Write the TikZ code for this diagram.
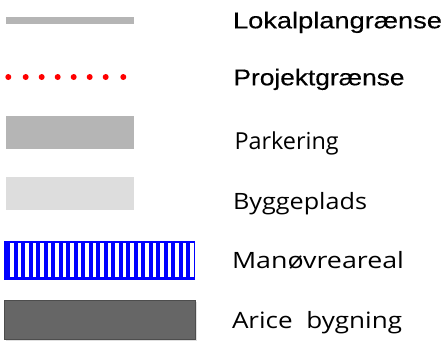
\documentclass[tikz,border=0pt]{standalone}
\usepackage{fontspec}
\setmainfont{Open Sans}
\newfontfamily\arialfont[FakeBold=0.3]{Liberation Sans}
\definecolor{lpgray}{HTML}{B5B5B5}
\definecolor{bygray}{HTML}{DDDDDD}
\definecolor{arigray}{HTML}{666666}
\definecolor{ariedge}{HTML}{4D4D4D}
\definecolor{manblue}{HTML}{0000FF}
\definecolor{projred}{HTML}{FF0000}
\tikzset{
  lbl/.style={anchor=base west, inner sep=0pt, outer sep=0pt},
}
\newcommand{\arialtxt}[2]{\resizebox{#1}{\height}{\arialfont\fontsize{22.8}{26}\selectfont #2}}
\newcommand{\humtxt}[2]{\resizebox{#1}{\height}{\fontsize{22.5}{27}\selectfont #2}}
\begin{document}
\begin{tikzpicture}[x=1pt,y=-1pt]
\useasboundingbox (0,0) rectangle (445,349);
% Lokalplangrænse
\fill[lpgray] (6,17) rectangle (134,24);
\node[lbl] (t1) at (233,28.3) {\arialtxt{209pt}{Lokalplangrænse}};
% Projektgrænse
\foreach \xx in {8.3,25.7,41.7,57.7,73.7,89.7,105.7,123.3}
  \fill[projred] (\xx,77) circle (3);
\node[lbl] (t2) at (233.5,85.3) {\arialtxt{171pt}{Projektgrænse}};
% Parkering
\fill[lpgray] (6,116) rectangle (134,149);
\node[lbl] (t3) at (234.5,149.7) {\fontsize{23.4}{28}\selectfont Parkering};
% Byggeplads
\fill[bygray] (6,177) rectangle (134,210);
\node[lbl] (t4) at (233,209.7) {\humtxt{134pt}{Byggeplads}};
% Manøvreareal
\fill[manblue] (4,240.5) rectangle (195,279.5);
\foreach \k in {0,...,24}
  \fill[white] ({10+7.5*\k},243.3) rectangle ({13.7+7.5*\k},276.7);
\node[lbl] (t5) at (232,268.7) {\humtxt{172pt}{Manøvreareal}};
% Arice bygning
\fill[black!12] (5.5,301.5) rectangle (196.5,341);
\filldraw[fill=arigray, draw=ariedge, line width=0.8pt] (4,300) rectangle (195,339.5);
\node[lbl] (t6) at (232,328.7) {\humtxt{170pt}{Arice\ \ bygning}};
\end{tikzpicture}
\end{document}
